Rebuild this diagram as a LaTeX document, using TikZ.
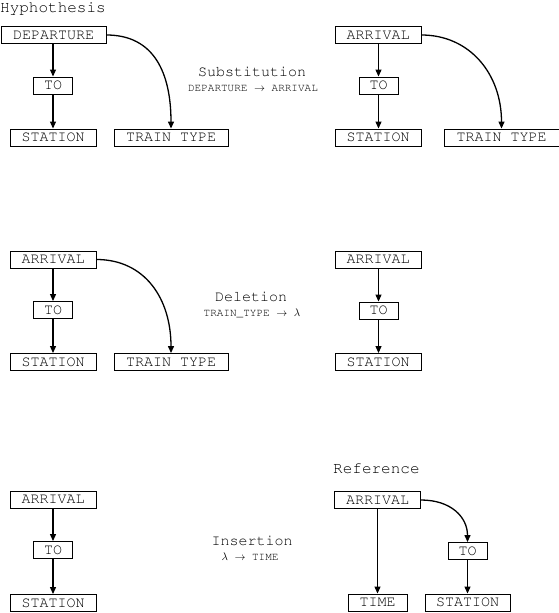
\documentclass[tikz,border=0pt]{standalone}
\usepackage[T1]{fontenc}
\usepackage{courier}
\usetikzlibrary{arrows.meta}
\begin{document}
\begin{tikzpicture}[x=1pt,y=-1pt,
  bx/.style={draw, line width=0.9pt, inner sep=0pt, minimum height=17pt,
    font=\ttfamily\fontsize{15}{15}\selectfont, text height=8.8pt, text depth=0pt},
  lbl/.style={font=\ttfamily\fontsize{15}{15}\selectfont, inner sep=0pt},
  hdr/.style={font=\ttfamily\fontsize{16}{16}\selectfont, inner sep=0pt},
  sml/.style={font=\ttfamily\fontsize{11}{11}\selectfont, inner sep=0pt},
  arr/.style={line width=1.1pt, -{Triangle[width=6pt,length=7pt]}},
  carr/.style={line width=1.3pt, -{Triangle[width=6pt,length=7pt]}}
]
\useasboundingbox (0,0) rectangle (559,613);

% Panel 1: Hypothesis
\node[hdr, anchor=west] (hyp) at (0,8.5) {Hyphothesis};
\node[bx, minimum width=105pt] (d1) at (53.5,35) {DEPARTURE};
\node[bx, minimum width=39pt] (t1) at (53,85.5) {TO};
\node[bx, minimum width=86pt] (s1) at (53,137.5) {STATION};
\node[bx, minimum width=114pt] (tt1) at (171,137.5) {TRAIN TYPE};
\draw[arr] (d1.south -| t1.north) -- (t1.north);
\draw[arr] (t1.south) -- (s1.north -| t1.south);
\draw[carr] (d1.east) .. controls +(48,0) and +(0,-55) .. (tt1.north);

\node[lbl] (sub) at (252,72) {Substitution};
\node[sml] (subr) at (253,88.5) {DEPARTURE $\rightarrow$ ARRIVAL};

% Panel 2
\node[bx, minimum width=86pt] (a2) at (378,35) {ARRIVAL};
\node[bx, minimum width=39pt] (t2) at (378.5,85.5) {TO};
\node[bx, minimum width=86pt] (s2) at (378,137.5) {STATION};
\node[bx, minimum width=115pt] (tt2) at (501.5,137.5) {TRAIN TYPE};
\draw[arr] (a2.south -| t2.north) -- (t2.north);
\draw[arr] (t2.south) -- (s2.north -| t2.south);
\draw[carr] (a2.east) .. controls +(48,0) and +(0,-55) .. (tt2.north);

% Panel 3
\node[bx, minimum width=86pt] (a3) at (53,259.5) {ARRIVAL};
\node[bx, minimum width=39pt] (t3) at (53,310) {TO};
\node[bx, minimum width=86pt] (s3) at (53,362) {STATION};
\node[bx, minimum width=114pt] (tt3) at (171,362) {TRAIN TYPE};
\draw[arr] (a3.south -| t3.north) -- (t3.north);
\draw[arr] (t3.south) -- (s3.north -| t3.south);
\draw[carr] (a3.east) .. controls +(48,0) and +(0,-55) .. (tt3.north);

\node[lbl] (del) at (251,297) {Deletion};
\node[sml] (delr) at (252,313.5) {TRAIN\_TYPE $\rightarrow$ $\lambda$};

% Panel 4
\node[bx, minimum width=86pt] (a4) at (378,259.5) {ARRIVAL};
\node[bx, minimum width=39pt] (t4) at (378.5,310.5) {TO};
\node[bx, minimum width=86pt] (s4) at (378,362) {STATION};
\draw[arr] (a4.south -| t4.north) -- (t4.north);
\draw[arr] (t4.south) -- (s4.north -| t4.south);

% Panel 5
\node[bx, minimum width=86pt] (a5) at (53,499.5) {ARRIVAL};
\node[bx, minimum width=39pt] (t5) at (53,550) {TO};
\node[bx, minimum width=86pt] (s5) at (53,603) {STATION};
\draw[arr] (a5.south -| t5.north) -- (t5.north);
\draw[arr] (t5.south) -- (s5.north -| t5.south);

\node[lbl] (ins) at (252,541) {Insertion};
\node[sml] (insr) at (250,556.5) {$\lambda$ $\rightarrow$ TIME};

% Panel 6: Reference
\node[hdr, anchor=west] (ref) at (333,468.5) {Reference};
\node[bx, minimum width=86pt] (a6) at (377.5,500) {ARRIVAL};
\node[bx, minimum width=39pt] (t6) at (467.5,551) {TO};
\node[bx, minimum width=59pt] (tm6) at (377.5,602.5) {TIME};
\node[bx, minimum width=85pt] (s6) at (467.5,602.5) {STATION};
\draw[arr] (a6.south -| tm6.north) -- (tm6.north);
\draw[arr] (t6.south) -- (s6.north -| t6.south);
\draw[carr] (a6.east) .. controls +(30,0) and +(0,-25) .. (t6.north);
\end{tikzpicture}
\end{document}
